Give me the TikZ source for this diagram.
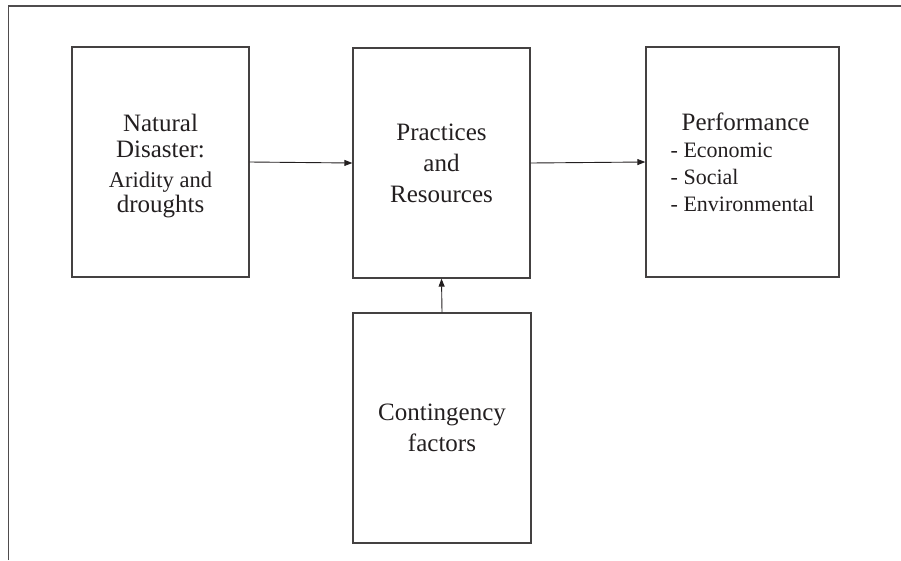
\documentclass[tikz,border=0pt]{standalone}
\usepackage{fontspec}
\setmainfont{Liberation Serif}
\usetikzlibrary{arrows.meta}
\definecolor{ink}{HTML}{231F20}
\tikzset{
  box/.style={draw=ink!85, line width=1.3pt, rectangle, inner sep=0pt,
    minimum width=177pt, minimum height=230pt, text=ink, align=center},
  big/.style={font=\fontsize{25}{31}\selectfont},
  link/.style={draw=ink, line width=0.9pt, -{Triangle[length=8pt,width=6pt]}},
  frame/.style={draw=ink!80, line width=1.3pt}
}
\begin{document}
\begin{tikzpicture}[x=1pt,y=-1pt]
\useasboundingbox (0,0) rectangle (901,560);
\draw[frame] (8.5,560) -- (8.5,6) -- (901,6);
\node[box, font=\fontsize{25}{25.5}\selectfont] (nd) at (160.5,162)
  {\rule{0pt}{26pt}Natural\\Disaster:\\[4.5pt]\fontsize{22.5}{25.7}\selectfont Aridity and\\droughts};
\node[box, big] (pr) at (441.5,163) {Practices\\and\\Resources};
\node[box, minimum width=193pt, align=left, font=\fontsize{22}{27}\selectfont] (pf) at (742.5,162)
  {\hspace*{11pt}{\fontsize{25}{27}\selectfont Performance}\\- Economic\\- Social\\- Environmental};
\node[box, big, minimum width=178pt] (cf) at (442,428) {Contingency\\factors};
\draw[link] (nd.east) -- (pr.west);
\draw[link] (pr.east) -- (pf.west);
\draw[link] (cf.north) -- (pr.south);
\end{tikzpicture}
\end{document}
